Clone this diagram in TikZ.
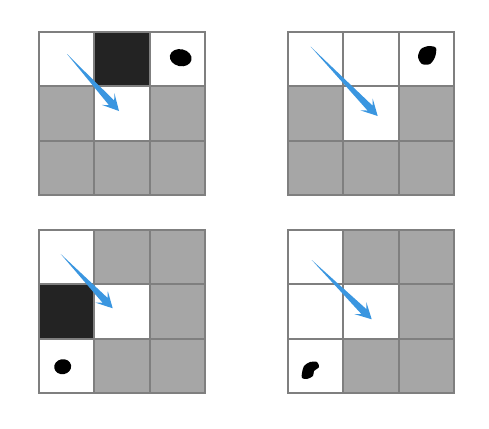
\documentclass[tikz,border=0pt]{standalone}
\usetikzlibrary{calc}

\definecolor{gridline}{HTML}{7F7F7F}
\definecolor{wallgray}{HTML}{A6A6A6}
\definecolor{darkcell}{HTML}{232323}
\definecolor{arrowblue}{HTML}{3A96E0}

\tikzset{
    cell/.style={draw=gridline, line width=2pt},
    open/.style={cell, fill=white},
    wall/.style={cell, fill=wallgray},
    dark/.style={cell, fill=darkcell},
    blob/.style={fill=black},
    move/.style={fill=arrowblue}
}

\def\cellw{55.3}
\def\cellh{54.4}

% one 3x3 world, cells listed row by row
\newcommand{\gridworld}[3]{%
    \foreach \kind [count=\k from 0] in {#3} {
        \pgfmathtruncatemacro{\col}{mod(\k,3)}
        \pgfmathtruncatemacro{\row}{\k/3}
        \path[\kind] ({#1+\col*\cellw},{#2+\row*\cellh}) rectangle ++(\cellw,\cellh);
    }%
}

% tapered arrow from tail #1 to tip #2
\newcommand{\movearrow}[2]{%
    \fill[move] (#1)
        -- ($(#2)!11pt!(#1)!3.5pt!90:(#2)$)
        -- ($(#2)!16pt!(#1)!8.5pt!90:(#2)$)
        -- (#2)
        -- ($(#2)!16pt!(#1)!8.5pt!-90:(#2)$)
        -- ($(#2)!11pt!(#1)!3.5pt!-90:(#2)$)
        -- cycle;%
}

\begin{document}
\begin{tikzpicture}[x=1pt, y=-1pt]

    \useasboundingbox (0,0) rectangle (489,428);

    % the four worlds
    \gridworld{39}{32}{open,dark,open,wall,open,wall,wall,wall,wall}
    \gridworld{288}{32}{open,open,open,wall,open,wall,wall,wall,wall}
    \gridworld{39}{230}{open,wall,wall,dark,open,wall,open,wall,wall}
    \gridworld{288}{230}{open,wall,wall,open,open,wall,open,wall,wall}

    % goals
    \fill[blob] (180.7,57.7) ellipse [x radius=11, y radius=8.5, rotate=-12];
    \fill[blob] plot[smooth cycle] coordinates {(418,57) (421,49) (429,46) (436,48) (435,57) (430,64) (422,64)};
    \fill[blob] (62.7,366.7) ellipse [x radius=8.5, y radius=7.5, rotate=10];
    \fill[blob] plot[smooth cycle] coordinates {(302,373) (304,366) (310,362) (317,362) (319,367) (314,371) (313,376) (307,379) (302,378)};

    % moves
    \coordinate (tailA) at (67,54);
    \coordinate (tipA) at (119,111);
    \coordinate (tailB) at (310.7,46.7);
    \coordinate (tipB) at (377.7,116);
    \coordinate (tailC) at (60.7,254);
    \coordinate (tipC) at (112.7,308.3);
    \coordinate (tailD) at (311.7,260);
    \coordinate (tipD) at (371.7,319.3);

    \movearrow{tailA}{tipA}
    \movearrow{tailB}{tipB}
    \movearrow{tailC}{tipC}
    \movearrow{tailD}{tipD}

\end{tikzpicture}
\end{document}
